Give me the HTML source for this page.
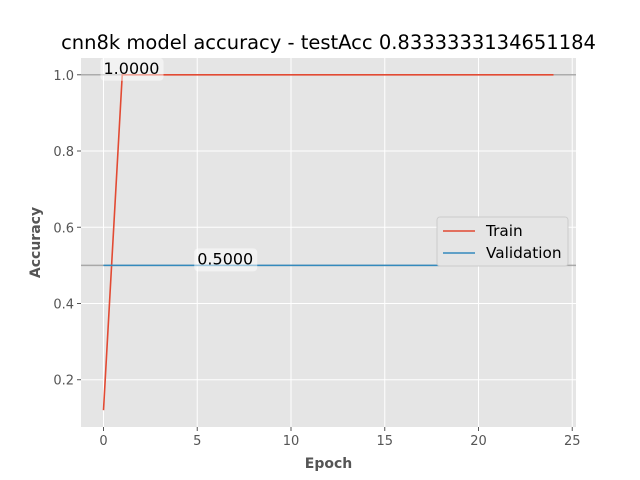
<!DOCTYPE html>
<html><head><meta charset="utf-8"><style>
body{margin:0;background:#fff;}
svg{display:block;font-family:"DejaVu Sans","Liberation Sans",sans-serif;}
</style></head><body>
<svg id="chart" width="640" height="480">
<rect x="0" y="0" width="640" height="480" fill="#fff"/>
<g id="plot"></g>
</svg>
<script>
const epochs = [0,1,2,3,4,5,6,7,8,9,10,11,12,13,14,15,16,17,18,19,20,21,22,23,24];
const trainAcc = [0.12,1,1,1,1,1,1,1,1,1,1,1,1,1,1,1,1,1,1,1,1,1,1,1,1];
const valAcc = [0.5,0.5,0.5,0.5,0.5,0.5,0.5,0.5,0.5,0.5,0.5,0.5,0.5,0.5,0.5,0.5,0.5,0.5,0.5,0.5,0.5,0.5,0.5,0.5,0.5];
const xTicks = [0,5,10,15,20,25];
const yTicks = [0.2,0.4,0.6,0.8,1.0];
const hLines = [1.0,0.5];
const annotations = [{x:0,y:1.0,text:"1.0000"},{x:5,y:0.5,text:"0.5000"}];

const L=81,R=576,T=58,B=427;
const xmin=-1.2,xmax=25.2,ymin=0.076,ymax=1.044;
const sx=v=>L+(v-xmin)/(xmax-xmin)*(R-L);
const sy=v=>B-(v-ymin)/(ymax-ymin)*(B-T);
const NS="http://www.w3.org/2000/svg";
const g=document.getElementById('plot');
function mk(tag,attrs,parent){const e=document.createElementNS(NS,tag);for(const k in attrs)e.setAttribute(k,attrs[k]);(parent||g).appendChild(e);return e;}

let e=mk('rect',{x:L,y:T,width:R-L,height:B-T,fill:'#e5e5e5'});



xTicks.forEach(t=>{
  let l=mk('line',{x1:sx(t),x2:sx(t),y1:T,y2:B,stroke:'#fff','stroke-width':1});
  
  
  let k=mk('line',{x1:sx(t),x2:sx(t),y1:B,y2:B+4,stroke:'#555'});
  
  
  let tx=mk('text',{x:sx(t),y:B+18,'text-anchor':'middle','font-size':'13px',fill:'#555'});
  tx.textContent=t;
  
  
});
yTicks.forEach(t=>{
  let l=mk('line',{x1:L,x2:R,y1:sy(t),y2:sy(t),stroke:'#fff','stroke-width':1});
  
  
  let k=mk('line',{x1:L-4,x2:L,y1:sy(t),y2:sy(t),stroke:'#555'});
  
  
  let tx=mk('text',{x:L-7,y:sy(t)+5,'text-anchor':'end','font-size':'13px',fill:'#555'});
  tx.textContent=t.toFixed(1);
  
  
});

hLines.forEach(h=>{
  let l=mk('line',{x1:L,x2:R,y1:sy(h),y2:sy(h),stroke:'#999','stroke-opacity':0.8,'stroke-width':1.5});
  
  
});

function series(vals,color,name){
  const p=mk('polyline',{points:epochs.map((x,i)=>sx(x)+','+sy(vals[i])).join(' '),fill:'none',stroke:color,'stroke-width':1.6});
  
  
}
series(trainAcc,'#e24a33','train-line');
series(valAcc,'#348abd','validation-line');

annotations.forEach(a=>{
  const x=sx(a.x), y=sy(a.y);
  let r=mk('rect',{x:x-3,y:y-17,width:63,height:23,rx:4,fill:'#fff','fill-opacity':0.5});
  
  
  let t=mk('text',{x:x,y:y-1,'font-size':'16px',fill:'#000'});
  t.textContent=a.text;
  
  
});

let lg=mk('g',{});


mk('rect',{x:437,y:217,width:131,height:49,rx:3,fill:'#e5e5e5',stroke:'#ccc','stroke-width':1},lg);
[['Train','#e24a33',231],['Validation','#348abd',253]].forEach(([n,c,y])=>{
  let l=mk('line',{x1:443,x2:475,y1:y,y2:y,stroke:c,'stroke-width':1.6},lg);
  
  
  let t=mk('text',{x:486,y:y+5,'font-size':'15.3px',fill:'#000'},lg);
  t.textContent=n;
  
  
});

let ti=mk('text',{x:(L+R)/2,y:49,'text-anchor':'middle','font-size':'19.5px',fill:'#000'});
ti.textContent='cnn8k model accuracy - testAcc 0.8333333134651184';


let xl=mk('text',{x:(L+R)/2,y:468,'text-anchor':'middle','font-size':'14px','font-weight':'bold',fill:'#555'});
xl.textContent='Epoch';


let yl=mk('text',{x:0,y:0,'text-anchor':'middle','font-size':'14px','font-weight':'bold',fill:'#555',transform:'translate(40,'+((T+B)/2)+') rotate(-90)'});
yl.textContent='Accuracy';


</script>
</body></html>
